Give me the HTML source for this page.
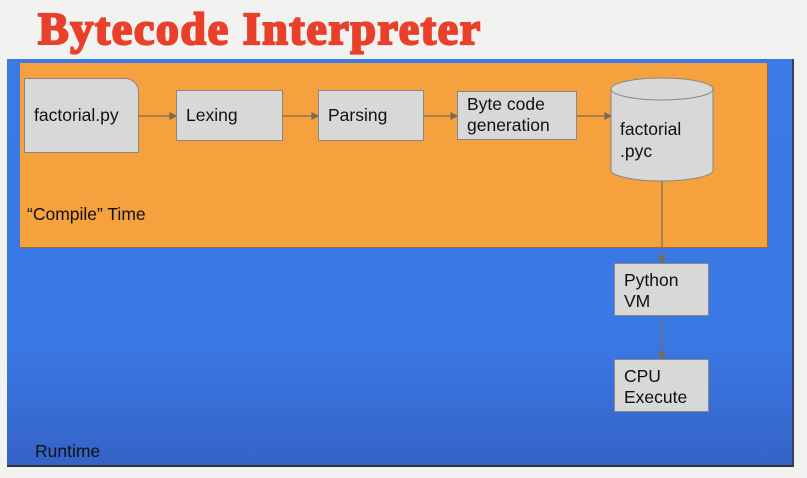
<!DOCTYPE html>
<html><head><style>
body{margin:0;width:807px;height:478px;overflow:hidden;background:#f2f2f0;font-family:"Liberation Sans",sans-serif;position:relative}
.t{position:absolute;left:38px;top:2px;font-family:"Liberation Serif",serif;font-weight:bold;font-size:46px;color:#e8402a;-webkit-text-stroke:2.2px #e8402a;letter-spacing:1.6px;white-space:nowrap}
.blue{position:absolute;left:7px;top:59px;width:785px;height:406px;background:linear-gradient(#3b7ae6,#3a78e4 70%,#3563c7);border-right:2px solid #3a3f55;border-bottom:2px solid #333}
.or{position:absolute;left:20px;top:63px;width:747px;height:184px;background:#f4a13e;border-right:1px solid #9a6a30;border-bottom:1px solid #9a6a30}
.b{position:absolute;background:#d8d8d8;border:1px solid #888;box-sizing:border-box;font-size:17.5px;color:#111;padding-left:9px;line-height:21px}
.l{position:absolute;font-size:17.5px;color:#111}
</style></head><body>
<div class="t">Bytecode Interpreter</div>
<div class="blue"></div>
<div class="or"></div>
<div class="b" style="left:24px;top:78px;width:115px;height:75px;border-top-right-radius:14px;padding-top:26px">factorial.py</div>
<div class="b" style="left:176px;top:90px;width:107px;height:51px;padding-top:14px">Lexing</div>
<div class="b" style="left:318px;top:90px;width:106px;height:51px;padding-top:14px">Parsing</div>
<div class="b" style="left:457px;top:91px;width:120px;height:49px;padding-top:2px">Byte code<br>generation</div>
<svg style="position:absolute;left:0;top:0" width="807" height="478">
<g stroke="#7a6a55" stroke-width="1.2" fill="#7a6a55">
<line x1="139" y1="116" x2="172" y2="116"/><polygon points="176,116 170,113 170,119"/>
<line x1="283" y1="116" x2="314" y2="116"/><polygon points="318,116 312,113 312,119"/>
<line x1="424" y1="116" x2="453" y2="116"/><polygon points="457,116 451,113 451,119"/>
<line x1="577" y1="116" x2="607" y2="116"/><polygon points="611,116 605,113 605,119"/>
<line x1="662" y1="181" x2="662" y2="259"/><polygon points="662,263 659,257 665,257"/>
<line x1="662" y1="316" x2="662" y2="355"/><polygon points="662,359 659,353 665,353"/>
</g>
<path d="M611,89 V170 A51,11 0 0 0 713,170 V89" fill="#d8d8d8" stroke="#888"/>
<ellipse cx="662" cy="89" rx="51" ry="11" fill="#d8d8d8" stroke="#888"/>
</svg>
<div class="l" style="left:620px;top:118px;line-height:22px">factorial<br>.pyc</div>
<div class="b" style="left:614px;top:263px;width:95px;height:53px;padding-top:6px">Python<br>VM</div>
<div class="b" style="left:614px;top:359px;width:95px;height:53px;padding-top:6px">CPU<br>Execute</div>
<div class="l" style="left:27px;top:204px">“Compile” Time</div>
<div class="l" style="left:35px;top:441px">Runtime</div>
</body></html>
